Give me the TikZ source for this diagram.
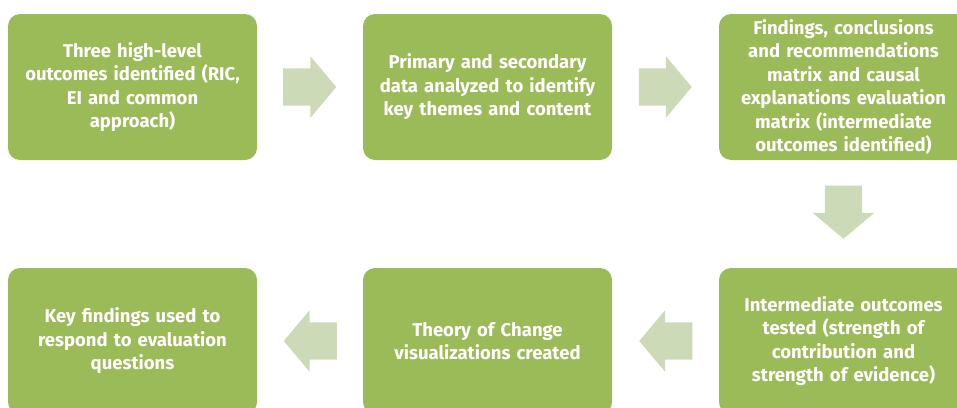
\documentclass[tikz,border=0pt]{standalone}
\usepackage{fontspec}
\setmainfont{Fira Sans}
\usetikzlibrary{shapes.arrows,positioning,calc}
\definecolor{boxgreen}{HTML}{9BBB59}
\definecolor{arrowgreen}{HTML}{CDDAB7}

\begin{document}
\begin{tikzpicture}[x=1pt,y=-1pt,
    every node/.append style={align=center},
    stage/.style={fill=boxgreen, rounded corners=12pt, minimum width=249pt, minimum height=146pt,
        text width=236pt, inner sep=0pt, text=white, font=\bfseries\fontsize{18.5}{23.5}\selectfont},
    flow/.style={single arrow, fill=arrowgreen, draw=none, minimum height=53pt, anchor=tip,
        single arrow head extend=12pt, single arrow tip angle=100, inner xsep=0pt, inner ysep=18.5pt},
    downflow/.style={flow, shape border rotate=270, inner xsep=18.5pt, inner ysep=0pt}]
    \useasboundingbox (0,0) rectangle (957,407);
    \begin{scope}
    \clip (0,0) rectangle (957,407);
    \node [stage] (find) at (132.5,87) {Three high-level\\outcomes identified (RIC,\\EI and common\\approach)};
    \node [stage] (data) at (487.5,87) {Primary and secondary\\data analyzed to identify\\key themes and content};
    \node [stage] (matrix) at (843.5,87) {Findings, conclusions\\and recommendations\\matrix and causal\\explanations evaluation\\matrix (intermediate\\outcomes identified)};
    \node [stage] (test) at (843.5,341) {Intermediate outcomes\\tested (strength of\\contribution and\\strength of evidence)};
    \node [stage] (toc) at (487.5,341) {Theory of Change\\visualizations created};
    \node [stage] (key) at (132.5,341) {Key findings used to\\respond to evaluation\\questions};
    \end{scope}
    % block arrows between the stages
    \node [flow] (a1) at ($(find.east)!0.5!(data.west)+(26.5,0)$) {};
    \node [flow] (a2) at ($(data.east)!0.5!(matrix.west)+(26.5,0)$) {};
    \node [downflow] (a3) at ($(matrix.south)!0.5!(test.north)+(0,25)$) {};
    \node [flow, shape border rotate=180] (a4) at ($(test.west)!0.5!(toc.east)+(-26.5,0)$) {};
    \node [flow, shape border rotate=180] (a5) at ($(toc.west)!0.5!(key.east)+(-26.5,0)$) {};
\end{tikzpicture}
\end{document}
